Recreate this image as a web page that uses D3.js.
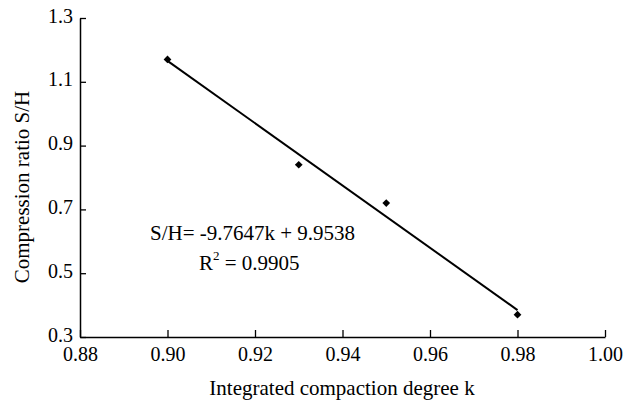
<!DOCTYPE html>
<html><head><meta charset="utf-8">
<script src="https://cdn.jsdelivr.net/npm/d3@7"></script>
<style>body{margin:0;background:#fff}svg{display:block}</style>
</head><body><svg id="c" width="627" height="404"></svg>
<script>
const kValues = [0.90, 0.93, 0.95, 0.98];
const shValues = [1.17, 0.84, 0.72, 0.37];
const xTicks = [0.88, 0.90, 0.92, 0.94, 0.96, 0.98, 1.00];
const yTicks = [0.3, 0.5, 0.7, 0.9, 1.1, 1.3];
const slope = -9.7647, intercept = 9.9538;
const fitRange = [0.90, 0.98];

const FONT = "'Liberation Serif', 'Times New Roman', Times, 'DejaVu Serif', serif";
const svg = d3.select("#c").style("font-family", FONT);
const x = d3.scaleLinear().domain([0.88, 1.00]).range([80, 605]);
const y = d3.scaleLinear().domain([0.3, 1.3]).range([337, 18]);

const xa = svg.append("g").attr("transform","translate(0,337)")
  .call(d3.axisBottom(x).tickValues(xTicks).tickFormat(d3.format(".2f")).tickSizeInner(-7).tickSizeOuter(0).tickPadding(10));
const ya = svg.append("g").attr("transform","translate(80,0)")
  .call(d3.axisLeft(y).tickValues(yTicks).tickFormat(d3.format(".1f")).tickSizeInner(-6).tickSizeOuter(0).tickPadding(7));
[xa, ya].forEach(a=>{
  a.attr("font-family", null).attr("font-size", 20);
  a.selectAll("path").attr("stroke","#000").attr("stroke-width",1.5);
  a.selectAll("line").attr("stroke","#000").attr("stroke-width",1.3);
  a.selectAll("text").attr("fill","#000").style("font-family", FONT).style("font-size","20px");
});
ya.selectAll("text").attr("dy","0.2em");

svg.append("line")
  .attr("x1", x(fitRange[0])).attr("y1", y(slope*fitRange[0]+intercept))
  .attr("x2", x(fitRange[1])).attr("y2", y(slope*fitRange[1]+intercept))
  .attr("stroke","#000").attr("stroke-width",2);

svg.selectAll("path.pt").data(kValues).enter().append("path")
  .attr("class","pt")
  .attr("d", d3.symbol(d3.symbolDiamond2, 38))
  .attr("transform",(d,i)=>`translate(${x(d)},${y(shValues[i])})`)
  .attr("fill","#000");

const T = (sel)=>sel.style("font-family", FONT).style("font-size","21px").attr("fill","#000");
T(svg.append("text").attr("x",150).attr("y",240)).text("S/H= -9.7647k + 9.9538");
const r = T(svg.append("text").attr("x",199).attr("y",270));
r.append("tspan").text("R");
r.append("tspan").attr("dy",-10).style("font-size","13px").text("2");
r.append("tspan").attr("dy",10).text(" = 0.9905");

T(svg.append("text").attr("x",342).attr("y",395).attr("text-anchor","middle")).text("Integrated compaction degree k");
T(svg.append("text").attr("transform","translate(29,187) rotate(-90)").attr("text-anchor","middle").style("font-size","22px")).text("Compression ratio S/H");
</script></body></html>
